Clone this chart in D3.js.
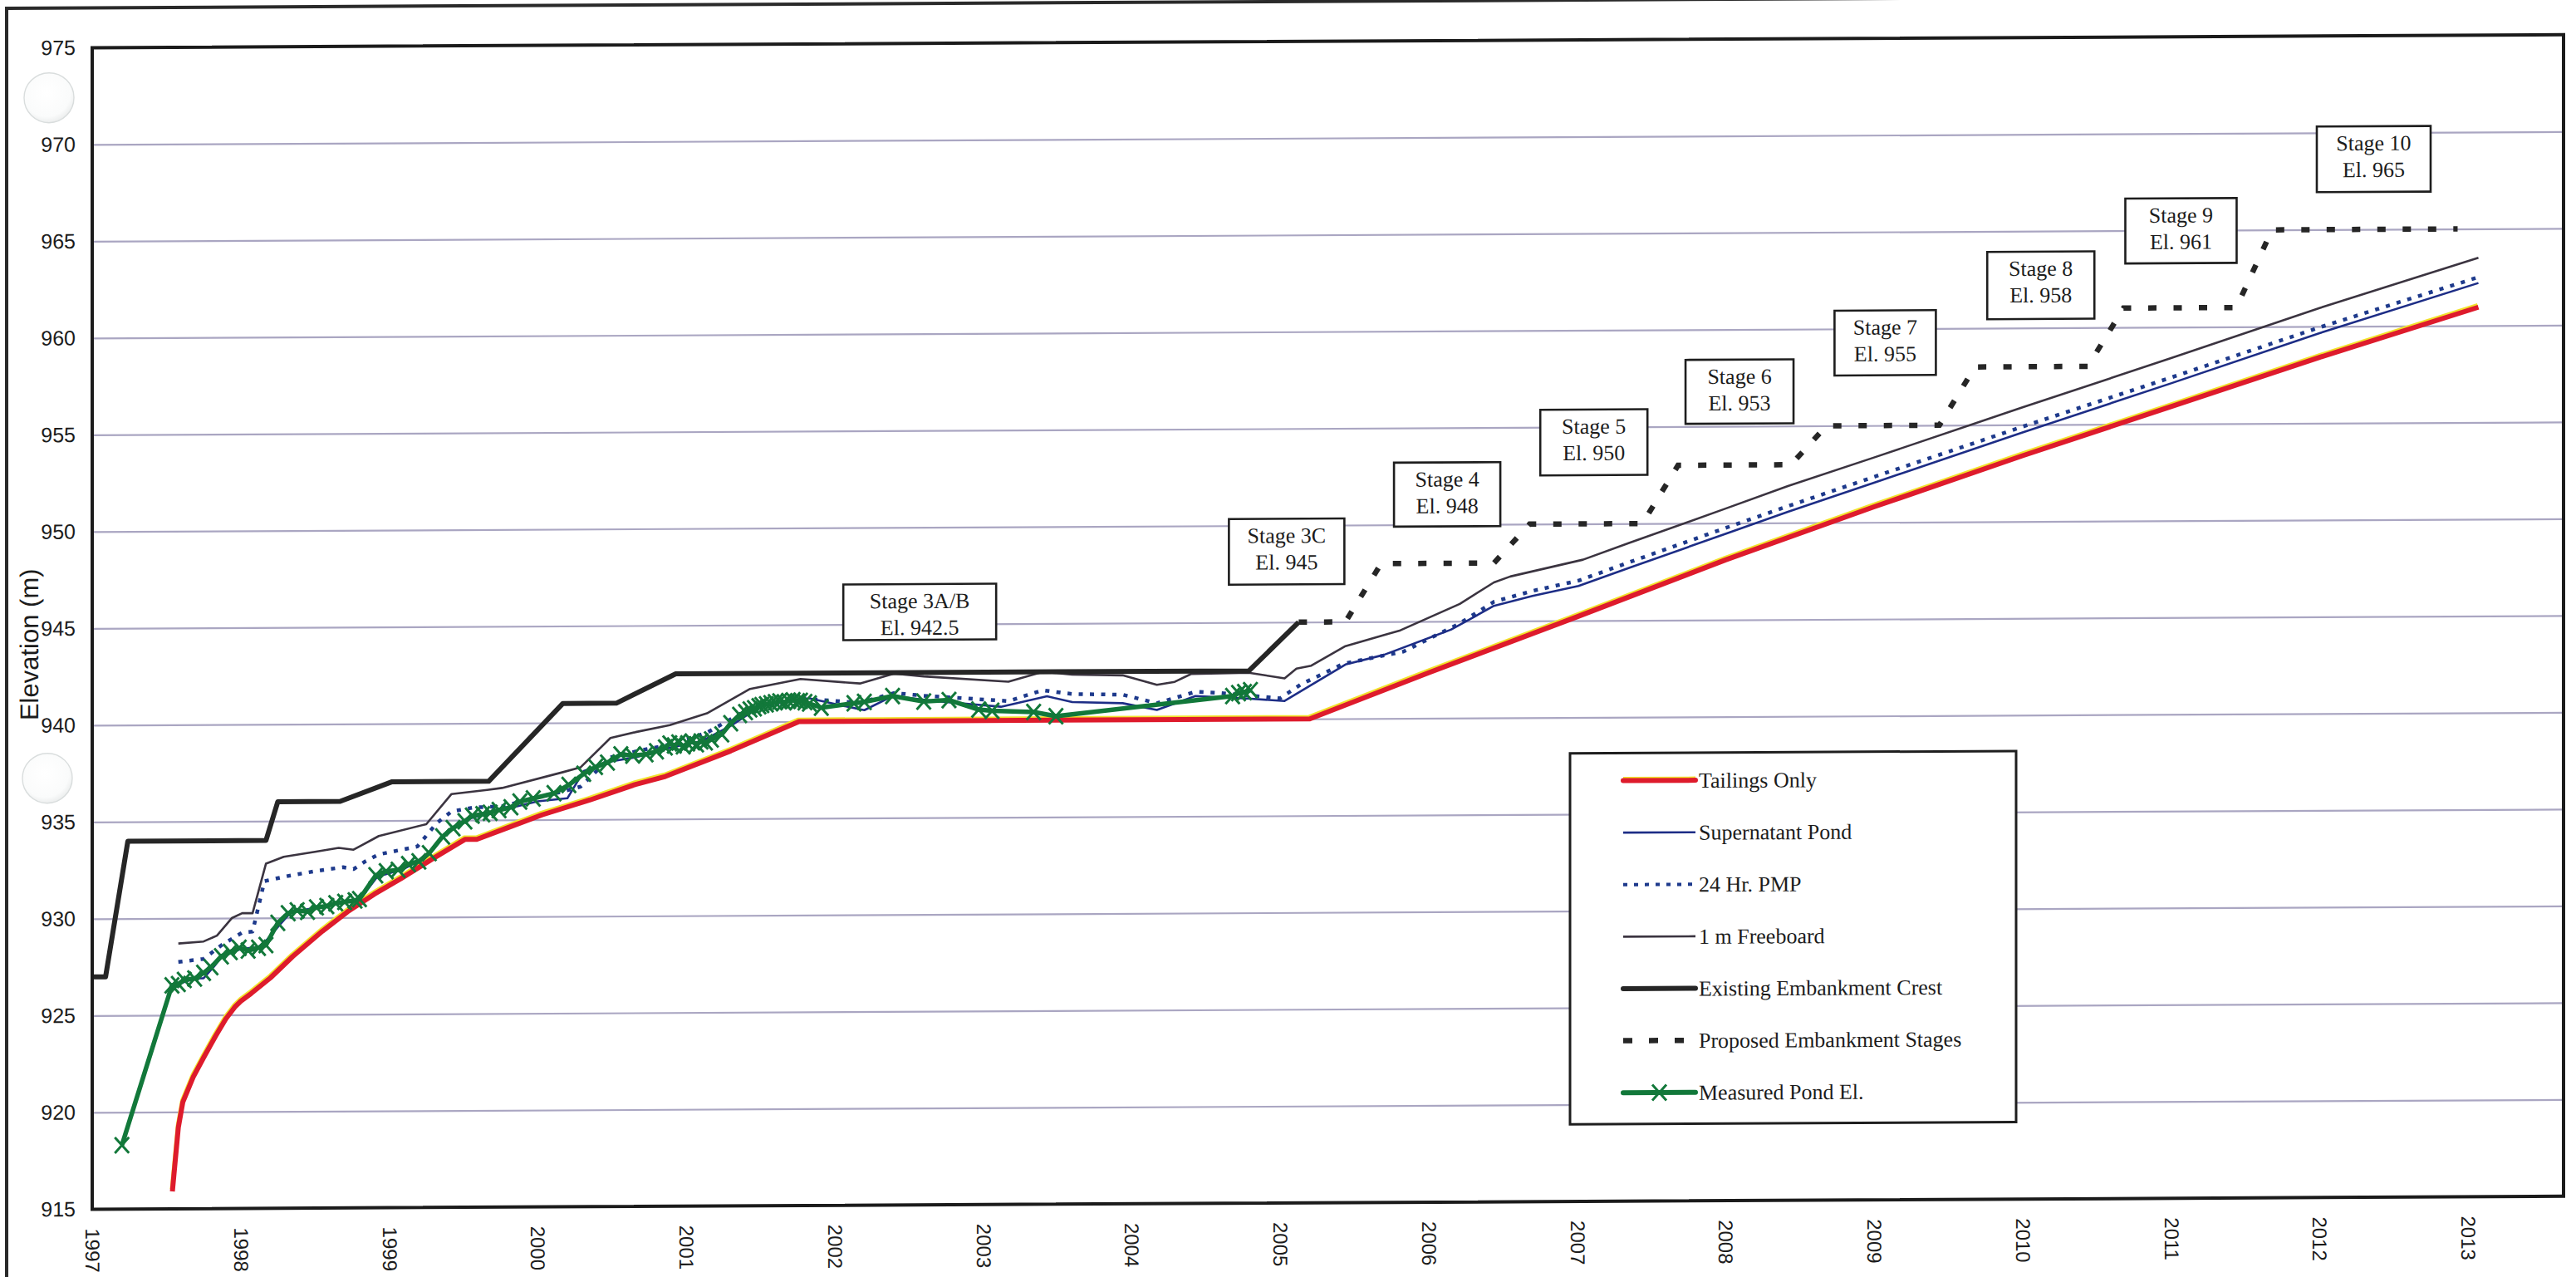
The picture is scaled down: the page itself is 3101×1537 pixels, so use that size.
<!DOCTYPE html>
<html><head><meta charset="utf-8">
<script src="https://cdn.jsdelivr.net/npm/d3@7/dist/d3.min.js"></script>
<style>html,body{margin:0;padding:0;background:#fff;overflow:hidden}</style>
</head><body><svg id="c" width="3101" height="1537"></svg>
<script>
// ---------------- DATA ----------------
const yearTicks = [1997,1998,1999,2000,2001,2002,2003,2004,2005,2006,2007,2008,2009,2010,2011,2012,2013];
const elevTicks = [915,920,925,930,935,940,945,950,955,960,965,970,975];
const gridTicks = [920,925,930,935,940,945,950,955,960,965,970];

const tailingsOnly = [[1997.54,915.9],[1997.58,919.2],[1997.61,920.5],[1997.68,921.8],[1997.75,922.8],[1997.83,923.9],[1997.90,924.8],[1997.96,925.4],[1998.0,925.7],[1998.07,926.1],[1998.2,926.9],[1998.35,928.0],[1998.55,929.3],[1998.72,930.3],[1998.9,931.2],[1999.08,932.0],[1999.29,933.0],[1999.51,934.0],[1999.59,934.0],[1999.8,934.6],[2000.03,935.25],[2000.35,936.0],[2000.66,936.8],[2000.86,937.2],[2001.3,938.5],[2001.76,940.0],[2005.2,940.0],[2006.0,942.35],[2007.0,945.2],[2008.0,948.1],[2009.0,950.8],[2010.0,953.4],[2011.0,955.9],[2012.0,958.4],[2013.07,960.95]];

const supernatantPond = [[1997.58,926.6],[1997.69,926.9],[1997.75,926.9],[1997.82,927.5],[1997.87,928.0],[1998.0,928.4],[1998.12,928.5],[1998.18,928.9],[1998.27,929.7],[1998.34,930.3],[1998.5,930.5],[1998.8,930.9],[1998.92,932.1],[1999.1,932.5],[1999.25,933.1],[1999.4,934.5],[1999.55,935.1],[1999.75,935.5],[2000.0,935.95],[2000.2,936.1],[2000.31,937.5],[2000.5,938.0],[2000.66,938.2],[2000.9,938.7],[2001.1,939.0],[2001.3,939.8],[2001.5,940.8],[2001.83,941.2],[2002.0,940.9],[2002.2,940.57],[2002.39,941.29],[2002.7,941.0],[2003.12,940.71],[2003.43,941.24],[2003.6,940.93],[2003.94,940.86],[2004.17,940.5],[2004.43,941.21],[2004.78,941.07],[2005.03,940.93],[2005.14,941.43],[2005.44,942.8],[2005.7,943.29],[2006.15,944.57],[2006.27,945.07],[2006.44,945.79],[2006.7,946.29],[2007.01,946.79],[2007.35,947.71],[2008.0,949.45],[2008.42,950.57],[2009.0,952.05],[2010.0,954.6],[2011.0,957.1],[2012.0,959.65],[2013.07,962.2]];

const pmp24hr = [[1997.58,927.75],[1997.75,927.9],[1997.87,928.6],[1998.01,929.25],[1998.08,929.3],[1998.12,930.6],[1998.16,931.9],[1998.31,932.15],[1998.5,932.4],[1998.69,932.6],[1998.76,932.5],[1998.84,932.9],[1998.93,933.25],[1999.19,933.65],[1999.32,934.85],[1999.42,935.45],[1999.57,935.65],[1999.76,935.7],[2000.02,936.2],[2000.17,936.45],[2000.29,936.7],[2000.49,938.2],[2000.66,938.5],[2000.89,938.85],[2001.14,939.45],[2001.43,940.7],[2001.77,941.2],[2002.17,940.95],[2002.4,941.45],[2002.6,941.3],[2003.17,941.0],[2003.4,941.55],[2003.6,941.35],[2003.94,941.3],[2004.17,940.85],[2004.43,941.43],[2004.6,941.36],[2005.0,941.07],[2005.14,941.78],[2005.43,942.85],[2005.83,943.45],[2006.2,944.85],[2006.44,946.0],[2006.7,946.55],[2007.01,947.07],[2007.35,948.0],[2008.0,949.75],[2008.42,950.86],[2009.0,952.35],[2010.0,954.9],[2011.0,957.4],[2012.0,959.95],[2013.07,962.5]];

const freeboard1m = [[1997.58,928.7],[1997.75,928.8],[1997.84,929.1],[1997.94,930.0],[1998.01,930.25],[1998.08,930.25],[1998.17,932.8],[1998.29,933.15],[1998.5,933.4],[1998.66,933.6],[1998.76,933.5],[1998.93,934.2],[1999.25,934.8],[1999.42,936.35],[1999.66,936.55],[1999.76,936.65],[2000.17,937.45],[2000.29,937.7],[2000.49,939.2],[2000.66,939.5],[2000.89,939.85],[2001.14,940.45],[2001.43,941.7],[2001.77,942.2],[2002.17,941.95],[2002.4,942.45],[2002.6,942.3],[2003.17,942.0],[2003.4,942.5],[2003.6,942.35],[2003.94,942.3],[2004.17,941.8],[2004.29,941.95],[2004.4,942.35],[2004.79,942.4],[2005.03,942.1],[2005.11,942.6],[2005.21,942.75],[2005.44,943.75],[2005.81,944.55],[2006.21,945.9],[2006.44,947.0],[2006.55,947.3],[2007.04,948.15],[2007.35,949.0],[2008.0,950.75],[2008.42,951.9],[2009.0,953.35],[2010.0,955.9],[2011.0,958.4],[2012.0,960.95],[2013.07,963.5]];

const existingCrest = [[1997.0,927],[1997.09,927],[1997.24,934],[1998.17,934],[1998.25,936],[1998.67,936],[1999.02,937],[1999.67,937],[2000.17,941],[2000.53,941],[2000.93,942.5],[2004.79,942.5],[2005.125,945]];

const proposedStages = [[2005.125,945],[2005.44,945],[2005.68,948],[2006.44,948],[2006.68,950],[2007.44,950],[2007.68,953],[2008.44,953],[2008.68,955],[2009.44,955],[2009.68,958],[2010.44,958],[2010.68,961],[2011.44,961],[2011.68,965],[2012.93,965]];

const measuredPond = [[1997.2,918.3],[1997.537,926.54],[1997.58,926.61],[1997.62,926.82],[1997.69,926.89],[1997.75,927.18],[1997.8,927.47],[1997.87,928.03],[1997.93,928.25],[1997.99,928.46],[1998.05,928.32],[1998.12,928.46],[1998.17,928.6],[1998.25,929.74],[1998.32,930.24],[1998.38,930.38],[1998.45,930.31],[1998.51,930.53],[1998.58,930.6],[1998.64,930.74],[1998.7,930.81],[1998.77,930.88],[1998.8,930.95],[1998.91,932.17],[1998.98,932.38],[1999.06,932.45],[1999.13,932.74],[1999.2,932.88],[1999.27,933.3],[1999.36,934.16],[1999.43,934.59],[1999.51,934.94],[1999.56,935.23],[1999.63,935.3],[1999.68,935.37],[1999.74,935.51],[1999.82,935.65],[1999.88,935.94],[1999.97,936.1],[2000.11,936.36],[2000.21,936.79],[2000.31,937.36],[2000.39,937.71],[2000.47,937.93],[2000.56,938.35],[2000.64,938.29],[2000.73,938.35],[2000.8,938.5],[2000.86,938.7],[2000.89,938.9],[2000.92,938.8],[2000.95,938.95],[2000.98,938.75],[2001.01,938.9],[2001.04,939.0],[2001.07,938.85],[2001.1,939.0],[2001.13,938.95],[2001.17,939.1],[2001.24,939.36],[2001.3,939.93],[2001.36,940.36],[2001.4,940.5],[2001.43,940.64],[2001.46,940.7],[2001.49,940.8],[2001.51,940.86],[2001.54,940.9],[2001.57,940.95],[2001.6,941.0],[2001.63,941.05],[2001.66,941.0],[2001.69,941.07],[2001.72,941.1],[2001.75,941.05],[2001.77,941.07],[2001.8,941.0],[2001.83,940.93],[2001.91,940.71],[2002.13,940.93],[2002.2,941.0],[2002.39,941.29],[2002.6,941.0],[2002.77,941.07],[2002.97,940.57],[2003.06,940.5],[2003.34,940.43],[2003.49,940.21],[2004.68,941.2],[2004.72,941.35],[2004.76,941.4],[2004.8,941.5]];

const legendLabels = ["Tailings Only","Supernatant Pond","24 Hr. PMP","1 m Freeboard","Existing Embankment Crest","Proposed Embankment Stages","Measured Pond El."];

const stageNames = ["Stage 3A/B","Stage 3C","Stage 4","Stage 5","Stage 6","Stage 7","Stage 8","Stage 9","Stage 10"];
const stageElevText = ["El. 942.5","El. 945","El. 948","El. 950","El. 953","El. 955","El. 958","El. 961","El. 965"];

// ---------------- LAYOUT ----------------
const W = 3101, H = 1537;
const plot = {left:111, right:3086, top:58, bottom:1456};
const stageBoxAnchor = [[2002.573,945.63],[2005.044,948.65],[2006.125,951.56],[2007.113,954.21],[2008.094,956.79],[2009.075,959.27],[2010.123,962.20],[2011.067,964.98],[2012.365,968.63]];
const stageBoxSize = [[184,67],[139,79],[128,77],[129,79],[130,77],[122,78],[129,81],[134,78],[137,79]];
const holes = [[59,118,30],[57,937,30]];
const legendBox = {x:1890, y:916.6, w:537, h:446.6, first:949.8, step:62.6, sx0:1954, sx1:2041, tx:2045};

const C = {
  red:"#de1b2c", yellow:"#f2e22c", blue:"#1d2d86", pmp:"#1e3a8c",
  fb:"#3b3440", crest:"#262626", green:"#12783a", grid:"#aaa6c2", ink:"#1c1c1c"
};

const svg = d3.select("#c");
const defs = svg.append("defs");
const rg = defs.append("radialGradient").attr("id","hole").attr("cx","45%").attr("cy","40%").attr("r","60%");
rg.append("stop").attr("offset","0%").attr("stop-color","#ffffff");
rg.append("stop").attr("offset","80%").attr("stop-color","#fafbfb");
rg.append("stop").attr("offset","100%").attr("stop-color","#eceeee");

svg.append("rect").attr("width",W).attr("height",H).attr("fill","#fff");
const g = svg.append("g").attr("transform","skewY(-0.3)");

const x = d3.scaleLinear().domain([1997, 1997 + (plot.right-plot.left)/178.75]).range([plot.left, plot.right]);
const y = d3.scaleLinear().domain([915, 975]).range([plot.bottom, plot.top]);

// outer frame
g.append("path").attr("d","M8,1620 L8,10 L3130,10").attr("fill","none").attr("stroke","#2a2a2a").attr("stroke-width",4);

// hole punches
g.selectAll("circle.hole").data(holes).join("circle").attr("class","hole")
  .attr("cx",d=>d[0]).attr("cy",d=>d[1]).attr("r",d=>d[2])
  .attr("fill","url(#hole)").attr("stroke","#d9dddd").attr("stroke-width",1.4);

// gridlines
const gridG = g.append("g").attr("transform",`translate(${plot.left},0)`)
  .call(d3.axisLeft(y).tickValues(gridTicks).tickSize(-(plot.right-plot.left)).tickFormat(""));
gridG.select(".domain").remove();
gridG.selectAll("line").attr("stroke",C.grid).attr("stroke-width",2.2);

// y axis labels
const yAx = g.append("g").attr("transform",`translate(${plot.left},0)`)
  .call(d3.axisLeft(y).tickValues(elevTicks).tickSize(0).tickPadding(20).tickFormat(d3.format("d")));
yAx.select(".domain").remove();
yAx.selectAll("text").attr("font-family","'Liberation Sans', Arial, sans-serif").attr("font-size",25).attr("fill",C.ink);

// x axis labels (rotated)
const xAx = g.append("g").attr("transform",`translate(0,${plot.bottom})`)
  .call(d3.axisBottom(x).tickValues(yearTicks).tickSize(0).tickFormat(d3.format("d")));
xAx.select(".domain").remove();
xAx.selectAll("text")
  .attr("font-family","'Liberation Sans', Arial, sans-serif").attr("font-size",24).attr("fill",C.ink)
  .attr("text-anchor","start").attr("x",0).attr("y",0).attr("dy","0.35em")
  .attr("transform","translate(0,23) rotate(90)");

// y title
g.append("text").attr("transform","translate(36,776) rotate(-90)")
  .attr("text-anchor","middle").attr("dominant-baseline","central")
  .attr("font-family","'Liberation Sans', Arial, sans-serif").attr("font-size",31).attr("fill",C.ink)
  .text("Elevation (m)");

// series
const line = d3.line().x(d=>x(d[0])).y(d=>y(d[1]));
const lines = g.append("g").attr("fill","none").attr("stroke-linejoin","round");

lines.append("path").datum(freeboard1m).attr("d",line).attr("stroke",C.fb).attr("stroke-width",2.6);
lines.append("path").datum(pmp24hr).attr("d",line).attr("stroke",C.pmp).attr("stroke-width",4.5).attr("stroke-dasharray","5,8.5");
lines.append("path").datum(supernatantPond).attr("d",line).attr("stroke",C.blue).attr("stroke-width",2.6);
lines.append("path").datum(tailingsOnly).attr("d",line).attr("stroke",C.yellow).attr("stroke-width",4).attr("transform","translate(-1,-2.8)");
lines.append("path").datum(tailingsOnly).attr("d",line).attr("stroke",C.red).attr("stroke-width",6);
lines.append("path").datum(existingCrest).attr("d",line).attr("stroke",C.crest).attr("stroke-width",6);
lines.append("path").datum(proposedStages).attr("d",line).attr("stroke",C.crest).attr("stroke-width",6.5).attr("stroke-dasharray","10,20.5").attr("stroke-linejoin","miter");
lines.append("path").datum(measuredPond).attr("d",line).attr("stroke",C.green).attr("stroke-width",5.5);

const xMark = "M-8.5,-9.5L8.5,9.5M-8.5,9.5L8.5,-9.5";
g.append("g").selectAll("path").data(measuredPond).join("path")
  .attr("d",xMark).attr("transform",d=>`translate(${x(d[0])},${y(d[1])})`)
  .attr("fill","none").attr("stroke",C.green).attr("stroke-width",3);

// plot border
g.append("rect").attr("x",plot.left).attr("y",plot.top)
  .attr("width",plot.right-plot.left).attr("height",plot.bottom-plot.top)
  .attr("fill","none").attr("stroke","#1b1b1b").attr("stroke-width",4);

// stage annotation boxes
const serif = "'Liberation Serif', 'Times New Roman', serif";
const sb = g.append("g").selectAll("g").data(stageNames).join("g")
  .attr("transform",(d,i)=>{
    const [w,h]=stageBoxSize[i];
    return `translate(${x(stageBoxAnchor[i][0])-w/2},${y(stageBoxAnchor[i][1])-h/2})`;
  });
sb.append("rect").attr("width",(d,i)=>stageBoxSize[i][0]).attr("height",(d,i)=>stageBoxSize[i][1])
  .attr("fill","#fff").attr("stroke","#1e1e1e").attr("stroke-width",2.6);
sb.append("text").attr("x",(d,i)=>stageBoxSize[i][0]/2).attr("y",29)
  .attr("text-anchor","middle").attr("font-family",serif).attr("font-size",26).attr("fill",C.ink).text(d=>d);
sb.append("text").attr("x",(d,i)=>stageBoxSize[i][0]/2).attr("y",61)
  .attr("text-anchor","middle").attr("font-family",serif).attr("font-size",26).attr("fill",C.ink).text((d,i)=>stageElevText[i]);

// legend
const lg = g.append("g");
lg.append("rect").attr("x",legendBox.x).attr("y",legendBox.y).attr("width",legendBox.w).attr("height",legendBox.h)
  .attr("fill","#fff").attr("stroke","#1e1e1e").attr("stroke-width",3);
const ly = i => legendBox.first + i*legendBox.step;
const s0 = legendBox.sx0, s1 = legendBox.sx1;
lg.append("line").attr("x1",s0).attr("x2",s1).attr("y1",ly(0)-2.5).attr("y2",ly(0)-2.5).attr("stroke",C.yellow).attr("stroke-width",4);
lg.append("line").attr("x1",s0).attr("x2",s1).attr("y1",ly(0)).attr("y2",ly(0)).attr("stroke",C.red).attr("stroke-width",6).attr("stroke-linecap","round");
lg.append("line").attr("x1",s0).attr("x2",s1).attr("y1",ly(1)).attr("y2",ly(1)).attr("stroke",C.blue).attr("stroke-width",2.6);
lg.append("line").attr("x1",s0).attr("x2",s1).attr("y1",ly(2)).attr("y2",ly(2)).attr("stroke",C.pmp).attr("stroke-width",4).attr("stroke-dasharray","5,8");
lg.append("line").attr("x1",s0).attr("x2",s1).attr("y1",ly(3)).attr("y2",ly(3)).attr("stroke",C.fb).attr("stroke-width",2.6);
lg.append("line").attr("x1",s0).attr("x2",s1).attr("y1",ly(4)).attr("y2",ly(4)).attr("stroke",C.crest).attr("stroke-width",6).attr("stroke-linecap","round");
lg.append("line").attr("x1",s0).attr("x2",s0+74).attr("y1",ly(5)).attr("y2",ly(5)).attr("stroke",C.crest).attr("stroke-width",6.5).attr("stroke-dasharray","11,20");
lg.append("line").attr("x1",s0).attr("x2",s1).attr("y1",ly(6)).attr("y2",ly(6)).attr("stroke",C.green).attr("stroke-width",6).attr("stroke-linecap","round");
lg.append("path").attr("d",xMark).attr("transform",`translate(${(s0+s1)/2},${ly(6)})`).attr("fill","none").attr("stroke",C.green).attr("stroke-width",3);
lg.selectAll("text").data(legendLabels).join("text")
  .attr("x",legendBox.tx).attr("y",(d,i)=>ly(i)+9)
  .attr("font-family",serif).attr("font-size",26).attr("fill",C.ink).text(d=>d);
</script>
</body></html>
